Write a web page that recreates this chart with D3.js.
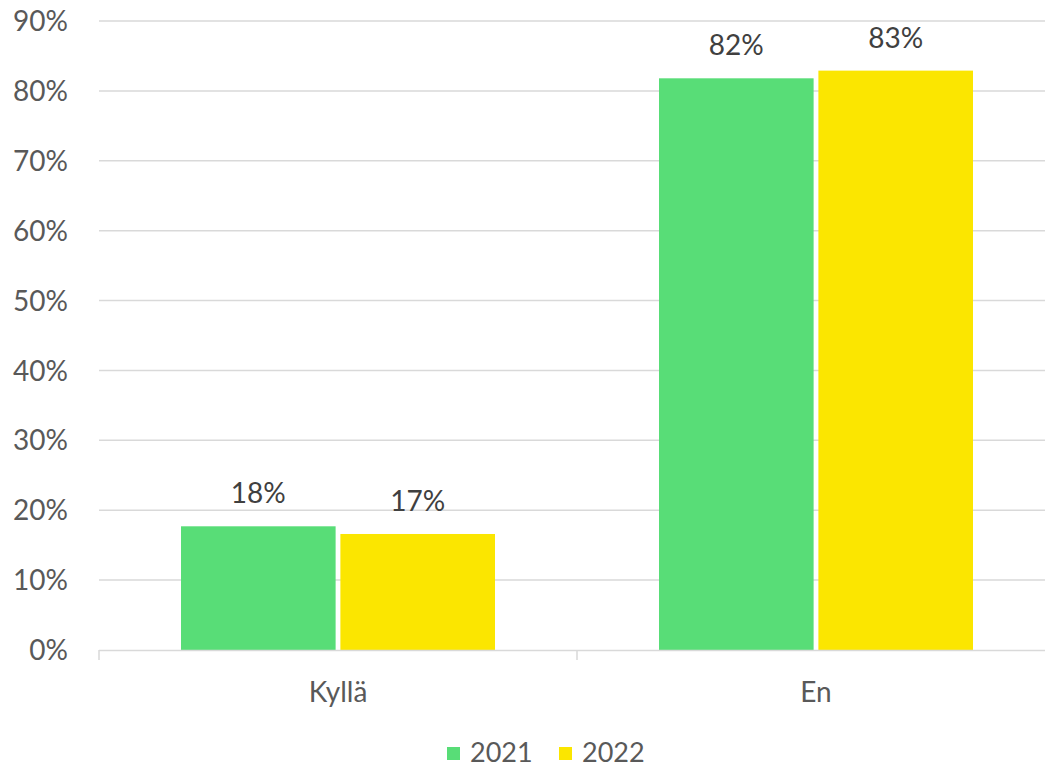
<!DOCTYPE html>
<html>
<head>
<meta charset="utf-8">
<script src="https://cdn.jsdelivr.net/npm/d3@7"></script>
<style>
  body { margin: 0; background: #fff; }
  text { font-family: Lato, "Open Sans", sans-serif; }
</style>
</head>
<body>
<svg class="bars" width="1045" height="768"></svg>
<script>
const categories = ["Kyllä", "En"];
const seriesNames = ["2021", "2022"];
const values2021 = [0.177, 0.818];
const values2022 = [0.166, 0.829];
const yTicks = [0, 0.1, 0.2, 0.3, 0.4, 0.5, 0.6, 0.7, 0.8, 0.9];

const colScale = d3.scaleOrdinal()
                  .domain(seriesNames)
                  .range(['#58dd77', '#fbe600']);

function drawBars() {
  const svg = d3.select('svg.bars');
  const left = 99, right = 1055, top = 21, bottom = 650;

  const x = d3.scaleBand()
              .domain(categories)
              .range([left, right]);

  const xInner = d3.scaleBand()
              .domain(seriesNames)
              .range([0, 314])
              .paddingInner(0.03);

  const y = d3.scaleLinear()
              .domain([0, 0.9])
              .range([bottom, top]);

  const fmt = d3.format('.0%');

  // gridlines
  svg.append('g')
    .selectAll('line')
    .data(yTicks.slice(1))
    .enter()
    .append('line')
    .attr('x1', left)
    .attr('x2', right)
    .attr('y1', d => y(d))
    .attr('y2', d => y(d))
    .style('stroke', '#d9d9d9')
    .style('stroke-width', 1.5);

  // y labels
  svg.append('g')
    .selectAll('text')
    .data(yTicks)
    .enter()
    .append('text')
    .attr('x', 68)
    .attr('y', d => y(d))
    .attr('dy', '0.36em')
    .style('text-anchor', 'end')
    .style('font-size', '28px')
    .style('fill', '#595959')
    .text(fmt);

  const rows = categories.map((c, i) => ({cat: c, vals: [values2021[i], values2022[i]]}));

  const groups = svg.append('g')
    .selectAll('g')
    .data(rows)
    .enter()
    .append('g')
    .attr('transform', d => `translate(${x(d.cat) + (x.bandwidth() - 314) / 2}, 0)`);

  groups.selectAll('rect')
    .data(d => d.vals.map((v, j) => ({name: seriesNames[j], v})))
    .enter()
    .append('rect')
    .attr('x', d => xInner(d.name))
    .attr('width', xInner.bandwidth())
    .attr('y', d => y(d.v))
    .attr('height', d => bottom - y(d.v))
    .style('fill', d => colScale(d.name));

  groups.selectAll('text')
    .data(d => d.vals.map((v, j) => ({name: seriesNames[j], v})))
    .enter()
    .append('text')
    .attr('x', d => xInner(d.name) + xInner.bandwidth() / 2)
    .attr('y', d => y(d.v) - 23)
    .style('text-anchor', 'middle')
    .style('font-size', '28px')
    .style('fill', '#404040')
    .text(d => fmt(d.v));

  // x axis line and ticks
  const axisG = svg.append('g');
  axisG.append('line')
    .attr('x1', left).attr('x2', right)
    .attr('y1', bottom + 0.5).attr('y2', bottom + 0.5)
    .style('stroke', '#d9d9d9')
    .style('stroke-width', 1.5);
  axisG.selectAll('line.tick')
    .data([left, x('En'), right])
    .enter()
    .append('line')
    .attr('class', 'tick')
    .attr('x1', d => d).attr('x2', d => d)
    .attr('y1', bottom).attr('y2', bottom + 10)
    .style('stroke', '#d9d9d9')
    .style('stroke-width', 1.5);

  axisG.selectAll('text')
    .data(categories)
    .enter()
    .append('text')
    .attr('x', d => x(d) + x.bandwidth() / 2)
    .attr('y', 702)
    .style('text-anchor', 'middle')
    .style('font-size', '28px')
    .style('fill', '#595959')
    .text(d => d);

  // legend
  const legend = svg.append('g')
    .selectAll('g')
    .data(seriesNames)
    .enter()
    .append('g')
    .attr('transform', (d, i) => `translate(${447 + i * 112}, 747)`);

  legend.append('rect')
    .attr('width', 13)
    .attr('height', 13)
    .style('fill', d => colScale(d));

  legend.append('text')
    .attr('x', 23)
    .attr('y', 15)
    .style('font-size', '27px')
    .style('fill', '#595959')
    .text(d => d);
}

drawBars();
</script>
</body>
</html>
